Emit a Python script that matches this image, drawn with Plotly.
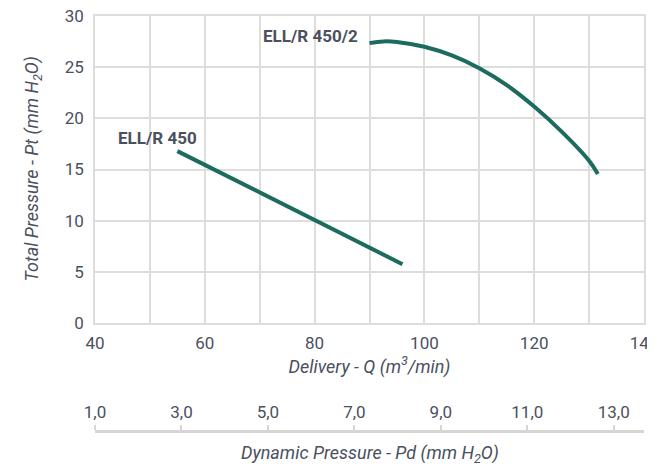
import plotly.graph_objects as go

# Series data
q_450 = [55, 96]
pt_450 = [16.8, 5.75]

q_450_2 = [90, 92.5, 95, 100, 105, 110, 115, 120, 125, 130, 131.6]
pt_450_2 = [27.35, 27.52, 27.47, 27.0, 26.15, 24.9, 23.25, 21.15, 18.7, 15.85, 14.55]

series_names = ["ELL/R 450", "ELL/R 450/2"]

pd_ticks = [1, 3, 5, 7, 9, 11, 13]
pd_range = [1, 13.7]

LINE = "#1d6b5f"
TXT = "#4a5060"
GRID = "#dddddd"
FONT = "Roboto"

fig = go.Figure()
fig.add_trace(go.Scatter(x=q_450, y=pt_450, mode="lines",
                         line=dict(color=LINE, width=4), name=series_names[0]))
fig.add_trace(go.Scatter(x=q_450_2, y=pt_450_2, mode="lines",
                         line=dict(color=LINE, width=4, shape="spline", smoothing=1.0),
                         name=series_names[1]))
# invisible trace to activate the secondary axis
fig.add_trace(go.Scatter(x=[None], y=[None], xaxis="x2", yaxis="y",
                         showlegend=False, hoverinfo="skip"))

fig.add_annotation(x=q_450[0], y=pt_450[0], text="<b>ELL/R 450</b>",
                   showarrow=False, xanchor="right", yanchor="middle",
                   xshift=22, yshift=13, font=dict(family=FONT, size=17, color=TXT))
fig.add_annotation(x=q_450_2[0], y=pt_450_2[0], text="<b>ELL/R 450/2</b>",
                   showarrow=False, xanchor="right", yanchor="middle",
                   xshift=-10, yshift=7, font=dict(family=FONT, size=17, color=TXT))
fig.add_annotation(x=0.5, y=0, xref="paper", yref="paper",
                   text="<i>Dynamic Pressure - Pd (mm H<sub>2</sub>O)</i>",
                   showarrow=False, xanchor="center", yanchor="top", yshift=-9,
                   font=dict(family=FONT, size=18, color=TXT))
fig.add_annotation(x=0, y=(0.2602 + 1) / 2, xref="paper", yref="paper",
                   text="<i>Total Pressure - Pt (mm H<sub>2</sub>O)</i>", textangle=-90,
                   showarrow=False, xanchor="center", yanchor="middle", xshift=-62,
                   font=dict(family=FONT, size=18, color=TXT))

fig.update_layout(
    width=655, height=474,
    margin=dict(l=87, r=19, t=8, b=51, autoexpand=False),
    paper_bgcolor="white", plot_bgcolor="white",
    showlegend=False,
    separators=",.",
    font=dict(family=FONT, size=17, color=TXT),
    xaxis=dict(range=[40, 140], dtick=20, tick0=40, automargin=False,
               ticklabeloverflow="allow",
               showgrid=True, gridcolor=GRID, gridwidth=1.5,
               minor=dict(dtick=10, showgrid=True, gridcolor=GRID, gridwidth=1.5),
               showline=True, linecolor=GRID, linewidth=1.5, mirror=True,
               zeroline=False, ticks="", ticklabelstandoff=4,
               tickfont=dict(family=FONT, size=17, color=TXT),
               title=dict(text="<i>Delivery - Q (m<sup>3</sup>/min)</i>", standoff=8,
                          font=dict(family=FONT, size=18, color=TXT))),
    yaxis=dict(range=[0, 30], dtick=5, domain=[0.2602, 1], automargin=False,
               ticklabeloverflow="allow",
               showgrid=True, gridcolor=GRID, gridwidth=1.5,
               showline=True, linecolor=GRID, linewidth=1.5, mirror=True,
               zeroline=False, ticks="", ticklabelstandoff=6,
               tickfont=dict(family=FONT, size=17, color=TXT)),
    xaxis2=dict(range=pd_range, tickvals=pd_ticks, tickformat=".1f", automargin=False,
                overlaying="x", anchor="free", position=0, side="top",
                showgrid=False, zeroline=False,
                showline=True, linecolor="#d6d6d6", linewidth=3,
                ticks="outside", ticklen=5, tickwidth=2, tickcolor="#d6d6d6",
                tickfont=dict(family=FONT, size=17, color=TXT)),
)

fig.write_html("out.html")
